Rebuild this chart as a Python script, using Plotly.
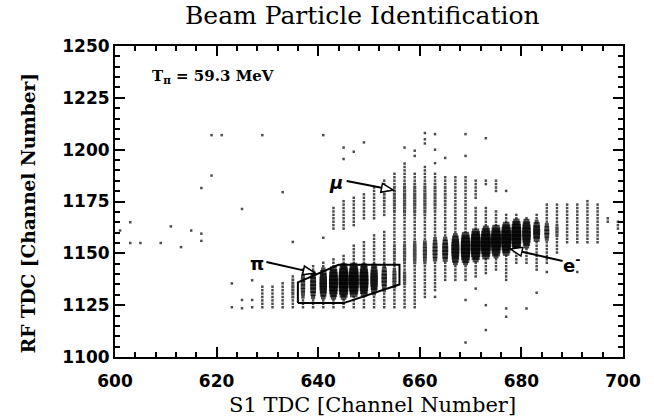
import math
import plotly.graph_objects as go

# ---------------- data ----------------
Y0 = 1100.9        # histogram grid origin in RF TDC
Y_STEP = 1.65      # RF TDC bin width
BASE = 2.5         # size of a single-count dot (px)

# pion band: column, sparse extent (lo, hi), dense core (centre, half-height, peak size)
PI_X  = [629, 631, 633, 635, 637, 639, 641, 643, 645, 647, 649, 651, 653, 655, 657]
PI_LO = [1124, 1124, 1124, 1124, 1124, 1124, 1124, 1124, 1124, 1124, 1124, 1124, 1124, 1124, 1124]
PI_HI = [1134, 1135, 1136, 1140, 1143, 1145, 1147, 1148, 1150, 1155, 1157, 1160, 1161, 1161, 1158]
PI_C  = [1133, 1133, 1133, 1133, 1134.5, 1135, 1135.5, 1136, 1136.5, 1137, 1137, 1137.5, 1138, 1138, 1138]
PI_H  = [1, 1, 1, 5, 6, 6.5, 7, 7.5, 8, 8, 7.5, 7, 6, 5, 4]
PI_PK = [2.5, 2.5, 2.5, 3.2, 4.5, 6, 7.5, 9, 10, 10, 9, 7.5, 5.5, 4.2, 3.4]

# muon band
MU_X  = [643, 645, 647, 649, 651, 653, 655, 657, 659, 661, 663, 665, 667, 669, 671, 673, 675, 677]
MU_LO = [1161, 1161, 1162, 1166, 1166, 1168, 1161, 1163, 1163, 1163, 1163, 1170, 1170, 1172, 1176, 1182, 1180, 1180]
MU_HI = [1172, 1176, 1178, 1180, 1183, 1186, 1190, 1194, 1190, 1192, 1190, 1188, 1188, 1188, 1186, 1186, 1186, 1181]
MU_C  = [1170, 1170, 1172, 1174, 1175, 1177, 1176, 1176, 1176, 1176, 1177, 1178, 1178, 1180, 1180, 1184, 1184, 1180]
MU_H  = [1, 1, 1, 1, 1, 5, 7, 8, 8, 8, 7, 5, 1, 1, 1, 1, 1, 1]
MU_PK = [2.5, 2.5, 2.5, 2.5, 2.5, 2.8, 3.1, 3.3, 3.3, 3.3, 3.1, 2.8, 2.5, 2.5, 2.5, 2.5, 2.5, 2.5]

# positron / electron band
E_X  = [655, 657, 659, 661, 663, 665, 667, 669, 671, 673, 675, 677, 679, 681, 683, 685, 687, 689, 691, 693, 695, 697, 699]
E_LO = [1132, 1126, 1124, 1128, 1131, 1136, 1137, 1136, 1138, 1139, 1142, 1137, 1144, 1145, 1141, 1145, 1150, 1155, 1155, 1155, 1155, 1164, 1161]
E_HI = [1163, 1163, 1163, 1163, 1163, 1172, 1172, 1172, 1172, 1172, 1171, 1170, 1170, 1168, 1170, 1174, 1174, 1174, 1174, 1176, 1175, 1168, 1166]
E_C  = [1150, 1150, 1150.5, 1151, 1151.5, 1151.6, 1152, 1152.7, 1154, 1155, 1156, 1157, 1158.5, 1159.6, 1160.4, 1160.4, 1161, 1161, 1161, 1161, 1161, 1161, 1161]
E_H  = [5, 5.5, 6, 6, 6, 6, 7, 7.5, 7.5, 7.5, 7.5, 7.5, 7.5, 6.5, 5, 4, 3, 1, 1, 1, 1, 1, 1]
E_PK = [3.0, 3.3, 3.7, 4.2, 5, 6, 8, 9.5, 10, 10, 10, 10, 10, 8.5, 7, 5, 3.4, 2.5, 2.5, 2.5, 2.5, 2.5, 2.5]

# isolated single events
OUT_X = [601, 603, 603, 605, 609, 611, 613, 615, 617, 617, 617, 619, 619, 621, 625, 629, 633, 641,
         645, 645, 647, 649, 635, 641, 623, 623, 625, 625, 627, 627, 627,
         657, 659, 659, 661, 661, 661, 663, 663, 663, 665, 669, 669, 673,
         663, 669, 669, 671, 673, 673, 677, 677, 681, 683, 685, 691]
OUT_Y = [1161, 1165, 1155, 1155, 1155, 1163, 1153, 1161, 1159.5, 1156, 1181.5, 1187.5, 1207, 1207, 1171.4, 1207, 1179.5, 1207,
         1201, 1195.5, 1199, 1203.5, 1155.5, 1157.5, 1135.5, 1124, 1127.5, 1123.5, 1137, 1127.5, 1124,
         1201, 1197, 1199.5, 1203, 1205, 1208, 1207.5, 1200, 1193.5, 1196, 1207.5, 1197, 1205.5,
         1129, 1127.5, 1107, 1133, 1125, 1113, 1123.4, 1119.4, 1123.4, 1131, 1141, 1141]

# annotation geometry (data coords): label position, arrow tail, arrow tip
LABELS   = ["<i>μ</i>", "π", "e<sup>-</sup>"]
LABEL_XY = [(643.6, 1184.4), (628.0, 1145.3), (689.9, 1144.8)]
TAIL_XY  = [(645.6, 1184.9), (629.8, 1145.8), (688.1, 1146.3)]
TIP_XY   = [(654.8, 1180.5), (639.4, 1140.5), (677.8, 1152.1)]

# selection polygon around the pion peak
CUT_X = [636, 636, 644, 656, 656, 645, 636]
CUT_Y = [1126, 1136, 1144.5, 1144.5, 1135, 1126, 1126]

# ---------------- build the 2-D histogram cells ----------------
cells = {}

def add_band(xs, lo, hi, c, h, pk):
    for x, a, b, cc, hh, p in zip(xs, lo, hi, c, h, pk):
        k0 = math.ceil((a - Y0) / Y_STEP)
        k1 = math.floor((b - Y0) / Y_STEP)
        for k in range(k0, k1 + 1):
            y = Y0 + k * Y_STEP
            t = max(0.0, 1 - ((y - cc) / hh) ** 2) ** 0.4
            s = BASE + (p - BASE) * t
            cells[(x, k)] = max(cells.get((x, k), 0), s)

add_band(PI_X, PI_LO, PI_HI, PI_C, PI_H, PI_PK)
add_band(MU_X, MU_LO, MU_HI, MU_C, MU_H, MU_PK)
add_band(E_X, E_LO, E_HI, E_C, E_H, E_PK)

px, py, ps = [], [], []
for (x, k), s in sorted(cells.items()):
    px.append(x)
    py.append(Y0 + k * Y_STEP)
    ps.append(s)
px += OUT_X
py += OUT_Y
ps += [BASE] * len(OUT_X)

fig = go.Figure()
fig.add_trace(go.Scatter(
    x=px, y=py, mode="markers",
    marker=dict(symbol="square", size=ps, color="black", line=dict(width=0)),
    hoverinfo="skip", showlegend=False))

# cut polygon
fig.add_trace(go.Scatter(x=CUT_X, y=CUT_Y, mode="lines",
                         line=dict(color="black", width=2), hoverinfo="skip", showlegend=False))

# axes geometry for arrowheads
L_M, R_M, T_M, B_M = 115, 31, 46, 62
W, H = 654, 419
SX = (W - L_M - R_M) / 100.0
SY = (H - T_M - B_M) / 150.0
HEAD_L, HEAD_W = 12.0, 4.5

for lab, (lx, ly), (tx, ty), (hx, hy) in zip(LABELS, LABEL_XY, TAIL_XY, TIP_XY):
    dx, dy = (hx - tx) * SX, (hy - ty) * SY
    n = math.hypot(dx, dy)
    ux, uy = dx / n, dy / n
    bx, by = hx * SX - HEAD_L * ux, hy * SY - HEAD_L * uy
    c1 = ((bx - HEAD_W * uy) / SX, (by + HEAD_W * ux) / SY)
    c2 = ((bx + HEAD_W * uy) / SX, (by - HEAD_W * ux) / SY)
    fig.add_shape(type="line", x0=tx, y0=ty, x1=bx / SX, y1=by / SY,
                  line=dict(color="black", width=2), layer="above")
    fig.add_shape(type="path",
                  path=f"M {hx},{hy} L {c1[0]},{c1[1]} L {c2[0]},{c2[1]} Z",
                  line=dict(color="black", width=1.5), fillcolor="white", layer="above")
    fig.add_annotation(x=lx, y=ly, text=lab, showarrow=False,
                       font=dict(family="DejaVu Sans", size=18, color="black", weight="bold"))

fig.add_annotation(x=606.8, y=1235.5, xanchor="left", text="T<sub>π</sub> = 59.3 MeV", showarrow=False,
                   font=dict(family="DejaVu Serif", size=15, color="black", weight="bold"))

# axis titles
fig.add_annotation(xref="paper", yref="paper", x=0.506, y=-0.153, text="S1 TDC [Channel Number]",
                   showarrow=False, yanchor="middle",
                   font=dict(family="DejaVu Serif", size=21, color="black"))
fig.add_annotation(xref="paper", yref="paper", x=-0.171, y=0.463, text="RF TDC [Channel Number]",
                   showarrow=False, textangle=-90, xanchor="center", yanchor="middle",
                   font=dict(family="DejaVu Serif", size=18.5, color="black", weight="bold"))

axis_common = dict(showgrid=False, zeroline=False, showline=True, linecolor="black", linewidth=2,
                   ticks="inside", ticklen=10, tickwidth=2, tickcolor="black", mirror="allticks",
                   tickfont=dict(family="DejaVu Sans", size=17, color="black", weight="bold"))

fig.update_xaxes(range=[600, 700], tick0=600, dtick=20,
                 minor=dict(dtick=4, ticks="inside", ticklen=5, tickwidth=1.5, tickcolor="black"),
                 ticklabelstandoff=8, **axis_common)
fig.update_yaxes(range=[1100, 1250], tick0=1100, dtick=25,
                 minor=dict(dtick=5, ticks="inside", ticklen=5, tickwidth=1.5, tickcolor="black"),
                 **axis_common)

fig.update_layout(
    width=W, height=H,
    margin=dict(l=L_M, r=R_M, t=T_M, b=B_M),
    paper_bgcolor="white", plot_bgcolor="white",
    title=dict(text="Beam Particle Identification", x=0.554, xanchor="center",
               y=1 - 15 / 419, yanchor="middle", xref="container", yref="container",
               font=dict(family="DejaVu Serif", size=25, color="black")),
)

fig.write_html("out.html")
